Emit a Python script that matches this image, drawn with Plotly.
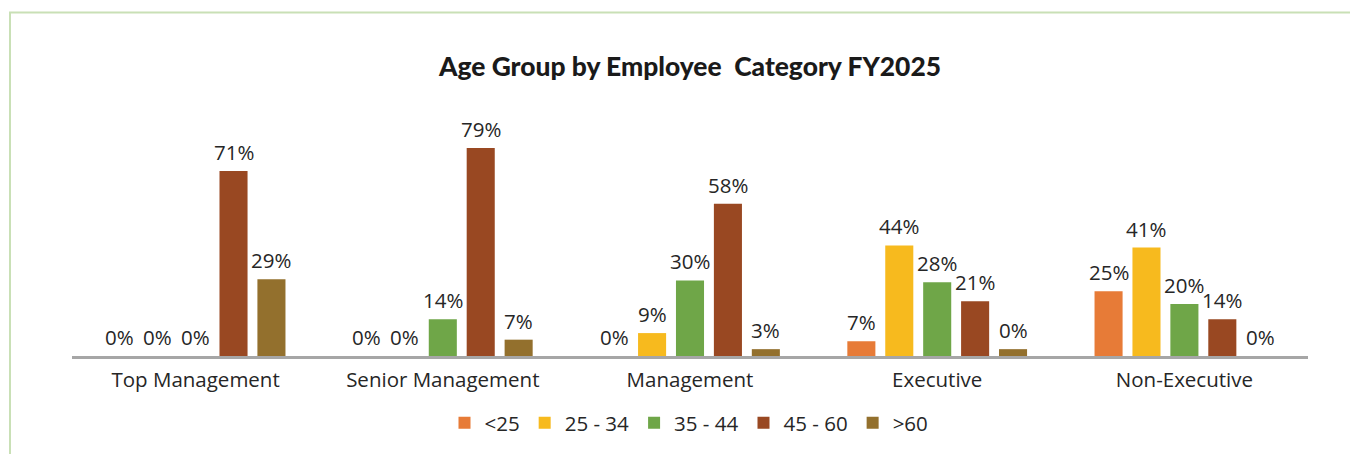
import plotly.graph_objects as go

categories = ["Top Management", "Senior Management", "Management", "Executive", "Non-Executive"]
series_names = ["<25", "25 - 34", "35 - 44", "45 - 60", ">60"]
colors = ["#E77B37", "#F7BA1E", "#6FA648", "#994822", "#93702D"]

# bar heights (percent)
under_25 = [0, 0, 0, 5.6, 24.6]
age_25_34 = [0, 0, 8.7, 42.0, 41.2]
age_35_44 = [0, 14.0, 28.7, 28.0, 19.7]
age_45_60 = [70.3, 79, 57.8, 20.8, 14.0]
over_60 = [29.1, 6.2, 2.6, 2.6, 0]

# data labels as printed on the chart
under_25_labels = ["0%", "0%", "0%", "7%", "25%"]
age_25_34_labels = ["0%", "0%", "9%", "44%", "41%"]
age_35_44_labels = ["0%", "14%", "30%", "28%", "20%"]
age_45_60_labels = ["71%", "79%", "58%", "21%", "14%"]
over_60_labels = ["29%", "7%", "3%", "0%", "0%"]

series_values = [under_25, age_25_34, age_35_44, age_45_60, over_60]
series_labels = [under_25_labels, age_25_34_labels, age_35_44_labels, age_45_60_labels, over_60_labels]

OFF = 8  # page body margin
W, H = 1358 - OFF, 454 - OFF
L, R, T, B = 72 - OFF, 50, 119 - OFF, 97
pw, ph = W - L - R, H - T - B

FONT = "Open Sans"
BARGAP = 0.233
slot = pw / len(categories) * (1 - BARGAP) / len(series_names)

fig = go.Figure()
for name, vals, col in zip(series_names, series_values, colors):
    fig.add_trace(go.Bar(
        x=categories, y=vals, name=name, marker_color=col, marker_line_width=0,
        hoverinfo="skip",
    ))

annotations = []
n = len(series_names)
for i, (vals, labs) in enumerate(zip(series_values, series_labels)):
    for cat, v, lab in zip(categories, vals, labs):
        annotations.append(dict(
            x=cat, y=v, xref="x", yref="y", text=lab, showarrow=False,
            xanchor="center", yanchor="bottom", xshift=(i - (n - 1) / 2) * slot, yshift=3,
            font=dict(family=FONT, size=20.5, color="#262626"),
        ))

def px_x(x):
    return (x - OFF - L) / pw

def px_y(y):
    return (H - B - (y - OFF)) / ph

fig.add_shape(type="rect", xref="paper", yref="paper",
              x0=px_x(10), x1=px_x(1370), y0=px_y(470), y1=px_y(12),
              line=dict(color="#C9E0B6", width=2), fillcolor="rgba(0,0,0,0)", layer="below")

fig.update_layout(
    width=W, height=H,
    margin=dict(l=L, r=R, t=T, b=B),
    paper_bgcolor="white", plot_bgcolor="white",
    barmode="group", bargap=BARGAP, bargroupgap=0.26,
    annotations=annotations,
    title=dict(text="Age Group by Employee\u00a0 Category FY2025",
               x=(690 - OFF) / W, xanchor="center", y=1 - (67 - OFF) / H, yanchor="middle",
               font=dict(family="Lato", size=26.4, weight=900, color="#1A1A1A")),
    xaxis=dict(showline=True, linecolor="#A6A6A6", linewidth=3, showgrid=False,
               ticks="", ticklabelstandoff=3,
               tickfont=dict(family=FONT, size=20.5, color="#262626")),
    yaxis=dict(visible=False, range=[0, 90]),
    legend=dict(orientation="h", x=(689 - OFF - L) / pw, xanchor="center", y=px_y(423), yanchor="middle",
                font=dict(family=FONT, size=20.5, color="#262626"), traceorder="normal"),
    font=dict(family=FONT),
)

fig.write_html("out.html")
